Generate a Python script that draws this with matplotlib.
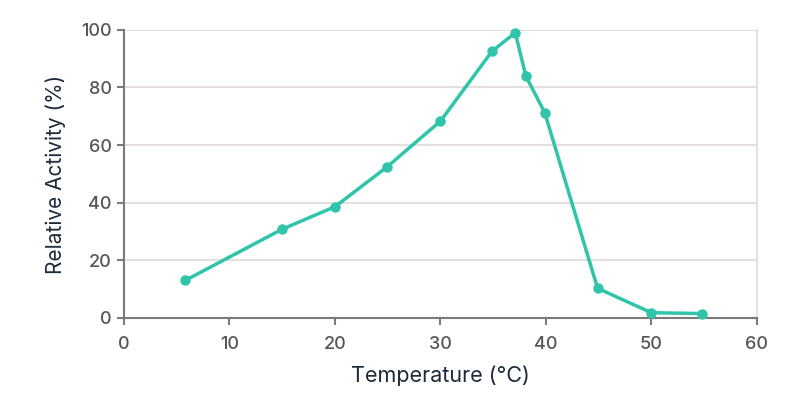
import matplotlib
matplotlib.use('Agg')
import matplotlib.pyplot as plt

# Data
temperature = [5.8, 15, 20, 24.9, 30, 34.9, 37.1, 38.1, 39.9, 44.9, 50, 54.8]
activity = [13.0, 30.8, 38.6, 52.3, 68.3, 92.6, 99.0, 84.0, 71.2, 10.3, 1.8, 1.5]

x_ticks = [0, 10, 20, 30, 40, 50, 60]
y_ticks = [0, 20, 40, 60, 80, 100]

plt.rcParams['font.family'] = ['Inter', 'DejaVu Sans']

fig = plt.figure(figsize=(8.0, 4.15), dpi=100)
ax = fig.add_axes([0.155, 0.234, 0.791, 0.694])

teal = '#30c4ab'
ax.plot(temperature, activity, color=teal, linewidth=2.5, marker='o',
        markersize=6.5, zorder=3, clip_on=False)

ax.set_xlim(0, 60)
ax.set_ylim(0, 100)
ax.set_xticks(x_ticks)
ax.set_yticks(y_ticks)

ax.grid(axis='y', color='#e4e0e0', linewidth=1.5)
ax.set_axisbelow(True)

ax.spines['top'].set_visible(False)
ax.spines['right'].set_color('#e4e0e0')
ax.spines['right'].set_linewidth(1.5)
for s in ['left', 'bottom']:
    ax.spines[s].set_color('#7a7a7a')
    ax.spines[s].set_linewidth(1.5)

ax.tick_params(axis='both', colors='#7a7a7a', width=1.5, length=5,
               labelsize=13, labelcolor='#555555')
ax.tick_params(axis='x', pad=8)
ax.tick_params(axis='y', pad=4)
for lab in ax.get_xticklabels() + ax.get_yticklabels():
    lab.set_fontweight('medium')

ax.set_xlabel('Temperature (°C)', fontsize=15.5, color='#1c2b3a', labelpad=9)
ax.set_ylabel('Relative Activity (%)', fontsize=15, color='#1c2b3a', labelpad=11)

fig.savefig('out.png', dpi=100, facecolor='white')
